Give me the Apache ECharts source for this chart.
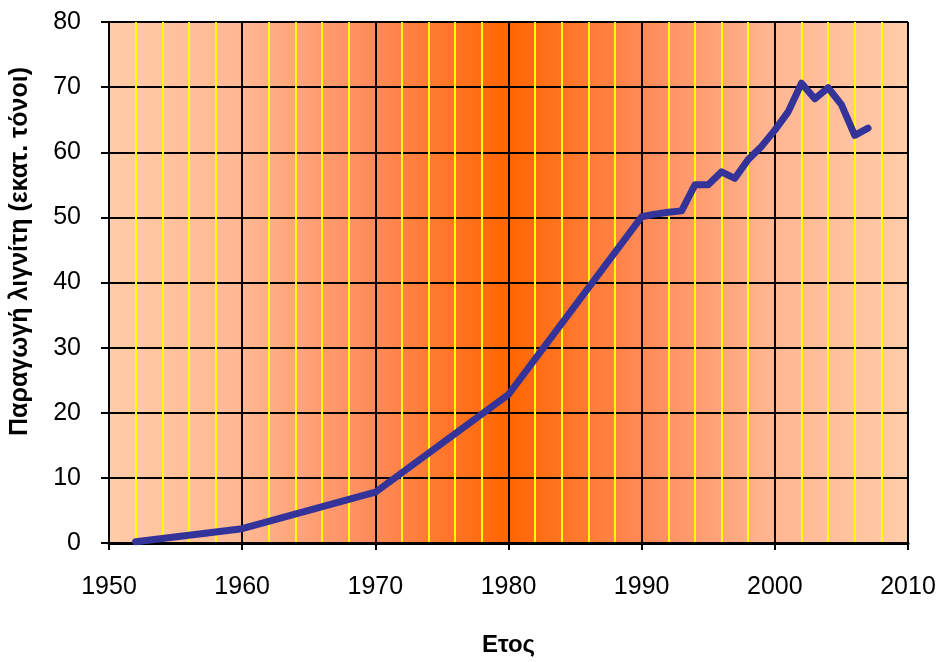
<!DOCTYPE html>
<html>
<head>
<meta charset="utf-8">
<script src="https://cdn.jsdelivr.net/npm/echarts@6/dist/echarts.min.js"></script>
<style>html,body{margin:0;padding:0;background:#fff;}#c{width:941px;height:662px;}</style>
</head>
<body>
<div id="c"></div>
<script>
var years = [1952, 1960, 1970, 1980, 1990, 1991, 1992, 1993, 1994, 1995, 1996, 1997, 1998, 1999, 2000, 2001, 2002, 2003, 2004, 2005, 2006, 2007];
var production = [0.2, 2.2, 7.8, 22.8, 50.1, 50.5, 50.8, 51.0, 55.0, 55.0, 57.0, 56.0, 58.9, 60.9, 63.4, 66.2, 70.6, 68.2, 69.9, 67.3, 62.6, 63.7];
var xTitle = 'Ετος';
var yTitle = 'Παραγωγή λιγνίτη (εκατ. τόνοι)';

var pts = years.map(function (y, i) { return [y, production[i]]; });
var chart = echarts.init(document.getElementById('c'));
var font = 'Liberation Sans, Arial, sans-serif';
chart.setOption({
  animation: false,
  grid: {
    left: 105, right: 33, top: 22, bottom: 116,
    show: true,
    borderColor: '#888', borderWidth: 1,
    backgroundColor: new echarts.graphic.LinearGradient(0, 0, 1, 0, [
      {offset: 0, color: '#FFCCA8'},
      {offset: 0.167, color: '#FFB792'},
      {offset: 0.333, color: '#FF8A58'},
      {offset: 0.5, color: '#FF6600'},
      {offset: 0.667, color: '#FF8A58'},
      {offset: 0.833, color: '#FFB792'},
      {offset: 1, color: '#FFCCA8'}
    ])
  },
  xAxis: {
    type: 'value', min: 1950, max: 2010, interval: 10,
    name: xTitle, nameLocation: 'middle', nameGap: 90,
    nameTextStyle: {fontFamily: font, fontSize: 24, fontWeight: 'bold', color: '#000'},
    axisLine: {show: true, onZero: false, lineStyle: {color: '#000', width: 3}},
    axisTick: {show: true, length: 7, lineStyle: {color: '#000', width: 2}},
    axisLabel: {fontFamily: font, fontSize: 25, color: '#000', margin: 32,
      formatter: function (v) { return String(v); }},
    splitLine: {show: true, lineStyle: {color: '#000', width: 2}},
    minorTick: {show: false, splitNumber: 5},
    minorSplitLine: {show: true, lineStyle: {color: '#FFFF00', width: 2}}
  },
  yAxis: {
    type: 'value', min: 0, max: 80, interval: 10,
    name: yTitle, nameLocation: 'middle', nameGap: 76,
    nameTextStyle: {fontFamily: font, fontSize: 25, fontWeight: 'bold', color: '#000', padding: [0, 0, 0, 62]},
    axisLine: {show: true, lineStyle: {color: '#000', width: 2}},
    axisTick: {show: true, length: 8, lineStyle: {color: '#000', width: 2}},
    axisLabel: {fontFamily: font, fontSize: 25, color: '#000', margin: 28},
    splitLine: {show: true, lineStyle: {color: '#000', width: 2}}
  },
  series: [{
    type: 'line', data: pts, showSymbol: false, symbol: 'none',
    lineStyle: {color: '#333399', width: 7, cap: 'round', join: 'round'},
    z: 5
  }]
});
</script>
</body>
</html>
